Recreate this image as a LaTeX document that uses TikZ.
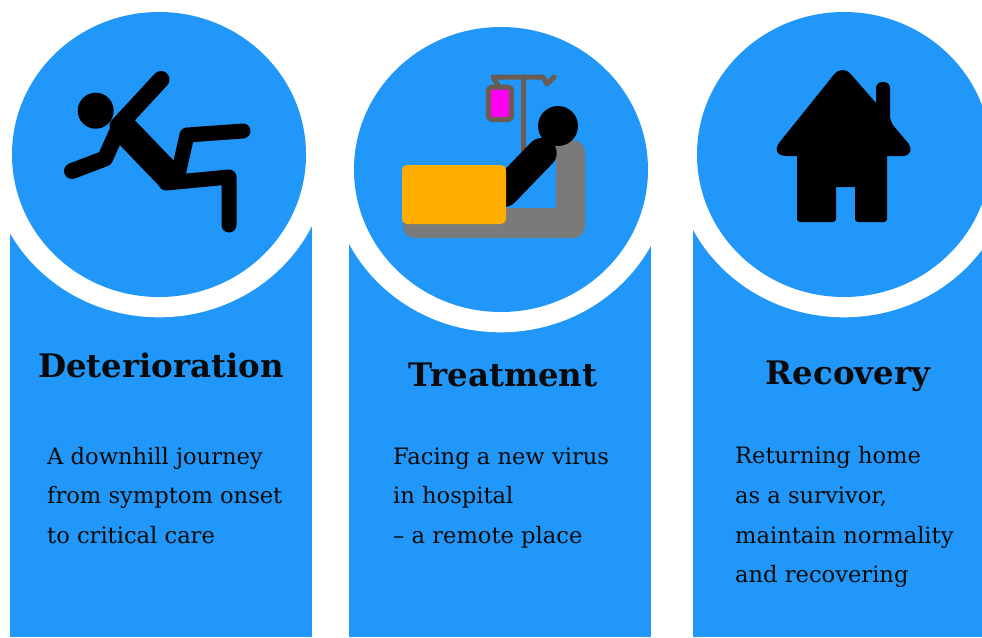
\documentclass[tikz,border=0pt]{standalone}
\usepackage{fontspec}
\setmainfont{DejaVu Serif}
\definecolor{panel}{HTML}{2097F9}
\definecolor{bedgray}{HTML}{7A7A7A}
\definecolor{pole}{HTML}{6B5B50}
\definecolor{quilt}{HTML}{FFAE00}
\definecolor{bag}{HTML}{FF00F0}
\definecolor{ink}{HTML}{0A0A0A}
\tikzset{
  x=1pt,y=-1pt,
  column/.style={fill=panel,draw=none},
  halo/.style={fill=white,draw=none},
  disc/.style={fill=panel,draw=none},
  limb/.style={draw=black,line cap=round,line join=round},
  heading/.style={font=\fontsize{32.4}{36}\selectfont\bfseries,text=ink,inner sep=0pt,anchor=base},
  bodyline/.style={font=\fontsize{22.6}{26}\selectfont,text=ink,inner sep=0pt,anchor=base west},
}
\begin{document}
\begin{tikzpicture}
\useasboundingbox (0,0) rectangle (982,637);
\clip (0,0) rectangle (982,637);
\fill[white] (0,0) rectangle (982,637);
% columns
\fill[column] (10,200) rectangle (312,637);
\fill[column] (349,200) rectangle (651,637);
\fill[column] (693,200) rectangle (1000,637);
% white halos and discs
\fill[halo] (159,155) ellipse[x radius=170,y radius=162.3];
\fill[halo] (500.5,170) ellipse[x radius=170,y radius=162.3];
\fill[halo] (844,155) ellipse[x radius=170,y radius=162.3];
\fill[disc] (159,154.5) ellipse[x radius=147,y radius=142.5];
\fill[disc] (501,169.5) ellipse[x radius=147,y radius=142.5];
\fill[disc] (844,154.5) ellipse[x radius=147,y radius=142.5];
% falling figure
\fill[black] (95.7,110.7) circle[radius=18];
\draw[limb,line width=17] (161,79.5) -- (118,126);
\draw[limb,line width=16] (72,171) -- (105,158.5) -- (117,132);
\draw[limb,line width=28,line cap=butt] (120,125) -- (169,176);
\draw[limb,line width=15] (243,131) -- (187,135) -- (178,175);
\draw[limb,line width=15] (229,225) -- (229,177) -- (166,183);
% bed
\fill[bedgray] (403,208) -- (556,208) -- (556,140) -- (573,140)
  .. controls (580,140) and (585,146) .. (585,153) -- (585,226)
  .. controls (585,233) and (580,238) .. (573,238) -- (415,238)
  .. controls (408,238) and (403,233) .. (403,226) -- cycle;
\draw[pole,line width=5,line cap=round] (523,77) -- (523,150);
\draw[pole,line width=5,line cap=round,line join=round] (498,85) -- (493,77) -- (543,77) -- (547,84) -- (554,77);
\draw[pole,line width=5,fill=bag,rounded corners=4] (488.3,87) rectangle (511.7,119.5);
\draw[limb,line width=30] (541.7,153) -- (504,192);
\fill[black] (558,126) circle[radius=20];
\fill[quilt,rounded corners=5] (402,165) rectangle (506,224);
% house
\fill[black] (876,103)
  [rounded corners=6] -- (876,82) -- (890,82) -- (890,121.7)
  [sharp corners] -- (908.3,143.3) .. controls (912,148) and (912,156) .. (902,156) -- (887,156)
  [rounded corners=3] -- (887,222) -- (855,222)
  [sharp corners] -- (855,187) -- (836,187)
  [rounded corners=3] -- (836,222) -- (797,222)
  [sharp corners] -- (797,156) -- (787,156) .. controls (776,156) and (774,149) .. (780,141.7)
  -- (835,73.3) .. controls (839,68.9) and (846,68.9) .. (850,73.3) -- cycle;
% headings
\node[heading] (h1) at (161,377) {Deterioration};
\node[heading] (h2) at (503,386) {Treatment};
\node[heading] (h3) at (848,384) {Recovery};
% body text
\node[bodyline] (a1) at (47,464) {A downhill journey};
\node[bodyline] (a2) at (47,503.5) {from symptom onset};
\node[bodyline] (a3) at (47,543) {to critical care};
\node[bodyline] (b1) at (393,464) {Facing a new virus};
\node[bodyline] (b2) at (393,503.5) {in hospital};
\node[bodyline] (b3) at (393,543) {– a remote place};
\node[bodyline] (c1) at (735,463) {Returning home};
\node[bodyline] (c2) at (735,503) {as a survivor,};
\node[bodyline] (c3) at (735,543) {maintain normality};
\node[bodyline] (c4) at (735,582) {and recovering};
\end{tikzpicture}
\end{document}
